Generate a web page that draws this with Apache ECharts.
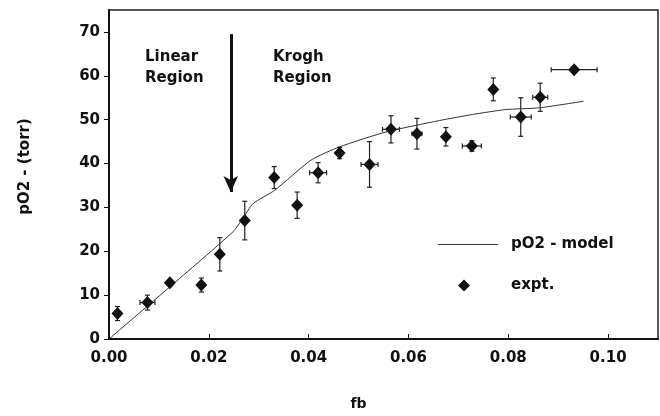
<!DOCTYPE html>
<html>
<head>
<meta charset="utf-8">
<script src="https://cdn.jsdelivr.net/npm/echarts@6/dist/echarts.min.js"></script>
<style>
html, body { margin: 0; padding: 0; background: #fff; }
#main { width: 660px; height: 416px; }
</style>
</head>
<body>
<div id="main"></div>
<script>
// measured points (fb, pO2) with error bars
var fb = [0.0017, 0.0077, 0.0122, 0.0185, 0.0222, 0.0272, 0.0331, 0.0377, 0.0419, 0.0462,
	0.0522, 0.0565, 0.0617, 0.0675, 0.0727, 0.0770, 0.0825, 0.0864, 0.0932];
var pO2 = [5.8, 8.3, 12.8, 12.3, 19.3, 27.0, 36.8, 30.5, 37.9, 42.4,
	39.8, 47.8, 46.8, 46.1, 44.0, 56.9, 50.6, 55.1, 61.4];
var yErr = [1.6, 1.7, 0, 1.6, 3.8, 4.4, 2.5, 3.0, 2.3, 1.3,
	5.2, 3.1, 3.5, 2.1, 1.2, 2.6, 4.4, 3.2, 0];
var xErr = [0, 0.0015, 0, 0, 0, 0, 0, 0, 0.0017, 0,
	0.0017, 0.0017, 0.0010, 0, 0.0019, 0, 0.0021, 0.0015, 0.0046];

// model curve
var modelX = [0, 0.0122, 0.0249, 0.0268, 0.0289, 0.0332, 0.0405, 0.0462, 0.0555, 0.0662, 0.0729, 0.0795, 0.0862, 0.0951];
var modelY = [0, 11.9, 24.5, 27.5, 30.9, 33.9, 40.8, 43.8, 47.2, 49.8, 51.2, 52.3, 52.7, 54.2];

var xTicks = [0, 0.02, 0.04, 0.06, 0.08, 0.10];
var yTicks = [0, 10, 20, 30, 40, 50, 60, 70];

var font = 'DejaVu Sans, sans-serif';

var points = fb.map(function (x, i) { return [x, pO2[i]]; });
var model = modelX.map(function (x, i) { return [x, modelY[i]]; });
var bars = fb.map(function (x, i) { return [x, pO2[i], xErr[i], yErr[i]]; });

var legendText = { fontFamily: font, fontSize: 15, fontWeight: 'bold', color: '#111' };

var chart = echarts.init(document.getElementById('main'));
chart.setOption({
	animation: false,
	grid: { left: 109, right: 2, top: 10, bottom: 75, show: true, borderColor: '#222', borderWidth: 1.5 },
	xAxis: {
		type: 'value', min: 0, max: 0.11, interval: 0.02,
		name: 'fb', nameLocation: 'middle', nameGap: 58,
		nameTextStyle: { fontFamily: font, fontSize: 14, fontWeight: 'bold', color: '#111', padding: [0, 50, 0, 0] },
		axisLine: { lineStyle: { color: '#111', width: 2 } },
		axisTick: { inside: true, length: 5, lineStyle: { color: '#111' }, customValues: xTicks },
		splitLine: { show: false },
		axisLabel: {
			fontFamily: font, fontSize: 15, fontWeight: 'bold', color: '#111', margin: 12,
			customValues: xTicks,
			formatter: function (v) { return v.toFixed(2); }
		}
	},
	yAxis: {
		type: 'value', min: 0, max: 75, interval: 10,
		name: 'pO2 - (torr)', nameLocation: 'middle', nameGap: 76,
		nameTextStyle: { fontFamily: font, fontSize: 15, fontWeight: 'bold', color: '#111', padding: [0, 0, 0, 16] },
		axisLine: { show: true, lineStyle: { color: '#111', width: 2 } },
		axisTick: { show: true, length: 5, lineStyle: { color: '#111' }, customValues: yTicks },
		splitLine: { show: false },
		axisLabel: {
			fontFamily: font, fontSize: 15, fontWeight: 'bold', color: '#111', margin: 9,
			customValues: yTicks,
			formatter: function (v) { return String(v); }
		}
	},
	legend: [
		{
			left: 433, top: 232, itemWidth: 60, itemHeight: 11,
			textStyle: Object.assign({ padding: [0, 0, 0, 8] }, legendText),
			data: [{ name: 'pO2 - model', icon: 'path://M0,0 L60,0 L60,1 L0,1 Z' }]
		},
		{
			left: 453, top: 273, itemWidth: 12, itemHeight: 12,
			textStyle: Object.assign({ padding: [0, 0, 0, 36] }, legendText),
			data: [{ name: 'expt.', icon: 'diamond' }]
		}
	],
	graphic: [
		{ type: 'text', left: 145, top: 47, style: { text: 'Linear\nRegion', font: 'bold 15px ' + font, fill: '#111', lineHeight: 21 } },
		{ type: 'text', left: 273, top: 47, style: { text: 'Krogh\nRegion', font: 'bold 15px ' + font, fill: '#111', lineHeight: 21 } }
	],
	series: [
		{
			name: 'pO2 - model', type: 'line', data: model, smooth: 0.2, symbol: 'none',
			lineStyle: { color: '#333', width: 1 }, itemStyle: { color: '#333' },
			markLine: {
				silent: true, symbol: ['none', 'arrow'], symbolSize: [11, 16],
				lineStyle: { color: '#111', width: 3, type: 'solid' }, label: { show: false },
				data: [[{ coord: [0.0244, 69.5] }, { coord: [0.0244, 33.5] }]]
			}
		},
		{
			name: 'errbars', type: 'custom', data: bars, silent: true,
			renderItem: function (params, api) {
				var x = api.value(0), y = api.value(1), dx = api.value(2), dy = api.value(3);
				var kids = [];
				var st = { stroke: '#222', lineWidth: 1.2 };
				if (dy > 0) {
					var t = api.coord([x, y + dy]), b = api.coord([x, y - dy]);
					kids.push({ type: 'line', shape: { x1: t[0], y1: t[1], x2: b[0], y2: b[1] }, style: st });
					kids.push({ type: 'line', shape: { x1: t[0] - 2.5, y1: t[1], x2: t[0] + 2.5, y2: t[1] }, style: st });
					kids.push({ type: 'line', shape: { x1: b[0] - 2.5, y1: b[1], x2: b[0] + 2.5, y2: b[1] }, style: st });
				}
				if (dx > 0) {
					var l = api.coord([x - dx, y]), r = api.coord([x + dx, y]);
					kids.push({ type: 'line', shape: { x1: l[0], y1: l[1], x2: r[0], y2: r[1] }, style: st });
					kids.push({ type: 'line', shape: { x1: l[0], y1: l[1] - 2.5, x2: l[0], y2: l[1] + 2.5 }, style: st });
					kids.push({ type: 'line', shape: { x1: r[0], y1: r[1] - 2.5, x2: r[0], y2: r[1] + 2.5 }, style: st });
				}
				return { type: 'group', children: kids };
			},
			z: 3
		},
		{
			name: 'expt.', type: 'scatter', data: points, symbol: 'diamond', symbolSize: [12, 13],
			symbolKeepAspect: true, itemStyle: { color: '#111', opacity: 1 }, z: 4
		}
	]
});
</script>
</body>
</html>
